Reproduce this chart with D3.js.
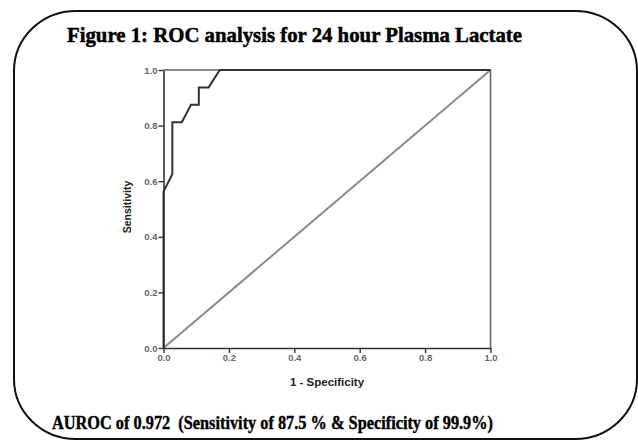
<!DOCTYPE html>
<html>
<head>
<meta charset="utf-8">
<script src="https://cdn.jsdelivr.net/npm/d3@7"></script>
<style>
  html, body { margin: 0; padding: 0; background: #fff; }
  svg { display: block; }
</style>
</head>
<body>
<svg id="chart" width="638" height="442"></svg>
<script>
// ROC curve for 24 hour plasma lactate: false positive rate (1 - specificity) vs sensitivity
const fpr = [0, 0, 0.027, 0.027, 0.056, 0.084, 0.108, 0.108, 0.138, 0.172, 1];
const tpr = [0, 0.5625, 0.625, 0.8125, 0.8125, 0.875, 0.875, 0.9375, 0.9375, 1, 1];
// chance (reference) diagonal
const refX = [0, 1];
const refY = [0, 1];
const tickValues = [0, 0.2, 0.4, 0.6, 0.8, 1.0];

const titleText = "Figure 1: ROC analysis for 24 hour Plasma Lactate";
const footText = "AUROC of 0.972  (Sensitivity of 87.5 % & Specificity of 99.9%)";
const xTitle = "1 - Specificity";
const yTitle = "Sensitivity";

const svg = d3.select("#chart");

// rounded frame around the figure
svg.append("rect")
  .attr("x", 14).attr("y", 11)
  .attr("width", 623).attr("height", 428)
  .attr("rx", 62).attr("ry", 60)
  .attr("fill", "none")
  .attr("stroke", "#111")
  .attr("stroke-width", 2);

// heading and footer in a heavy, tightly set serif face
svg.append("text")
  .attr("x", 67).attr("y", 42)
  .attr("font-family", "'Liberation Serif', 'Times New Roman', serif")
  .attr("font-weight", "bold")
  .attr("font-size", 22)
  .attr("textLength", 455)
  .attr("lengthAdjust", "spacingAndGlyphs")
  .attr("fill", "#000")
  .attr("stroke", "#000")
  .attr("stroke-width", 0.5)
  .text(titleText);

svg.append("text")
  .attr("x", 52).attr("y", 429)
  .style("white-space", "pre")
  .attr("font-family", "'Liberation Serif', 'Times New Roman', serif")
  .attr("font-weight", "bold")
  .attr("font-size", 18)
  .attr("textLength", 441)
  .attr("lengthAdjust", "spacingAndGlyphs")
  .attr("fill", "#000")
  .attr("stroke", "#000")
  .attr("stroke-width", 0.4)
  .text(footText);

// plot area
const plotLeft = 163.5, plotRight = 490.5, plotTop = 70, plotBottom = 348;
const x = d3.scaleLinear().domain([0, 1]).range([plotLeft, plotRight]);
const y = d3.scaleLinear().domain([0, 1]).range([plotBottom, plotTop]);

const g = svg.append("g");

// plot border (top and right edges)
g.append("path")
  .attr("d", `M${x(0)},${y(1)}H${x(1)}V${y(0)}`)
  .attr("fill", "none")
  .attr("stroke", "#666")
  .attr("stroke-width", 1.6);

// reference diagonal
const line = d3.line().x(d => x(d[0])).y(d => y(d[1]));
g.append("path")
  .datum(d3.zip(refX, refY))
  .attr("d", line)
  .attr("fill", "none")
  .attr("stroke", "#8a8a8a")
  .attr("stroke-width", 2);

// axes
const fmt = d3.format(".1f");
const xAxis = g.append("g")
  .attr("transform", `translate(0,${plotBottom})`)
  .call(d3.axisBottom(x).tickValues(tickValues).tickFormat(fmt).tickSize(5).tickSizeOuter(0));
const yAxis = g.append("g")
  .attr("transform", `translate(${plotLeft},0)`)
  .call(d3.axisLeft(y).tickValues(tickValues).tickFormat(fmt).tickSize(5).tickSizeOuter(0));

[xAxis, yAxis].forEach(ax => {
  ax.select(".domain").attr("stroke", "#333").attr("stroke-width", 1.6);
  ax.selectAll(".tick line").attr("stroke", "#333").attr("stroke-width", 1.4);
  ax.selectAll(".tick text")
    .attr("font-family", "'Liberation Sans', Arial, sans-serif")
    .attr("font-size", 9.5)
    .attr("font-weight", "bold")
    .attr("fill", "#666");
});
xAxis.selectAll(".tick text").attr("dy", "0.6em").attr("y", 7);
yAxis.selectAll(".tick text").attr("x", -6);

// ROC curve
g.append("path")
  .datum(d3.zip(fpr, tpr))
  .attr("d", line)
  .attr("fill", "none")
  .attr("stroke", "#333")
  .attr("stroke-width", 2);

// axis titles
svg.append("text")
  .attr("x", 327).attr("y", 386)
  .attr("text-anchor", "middle")
  .attr("font-family", "'Liberation Sans', Arial, sans-serif")
  .attr("font-weight", "bold")
  .attr("font-size", 11.5)
  .attr("fill", "#222")
  .text(xTitle);

svg.append("text")
  .attr("transform", "translate(131,207) rotate(-90)")
  .attr("text-anchor", "middle")
  .attr("font-family", "'Liberation Sans', Arial, sans-serif")
  .attr("font-weight", "bold")
  .attr("font-size", 10.5)
  .attr("fill", "#222")
  .text(yTitle);
</script>
</body>
</html>
